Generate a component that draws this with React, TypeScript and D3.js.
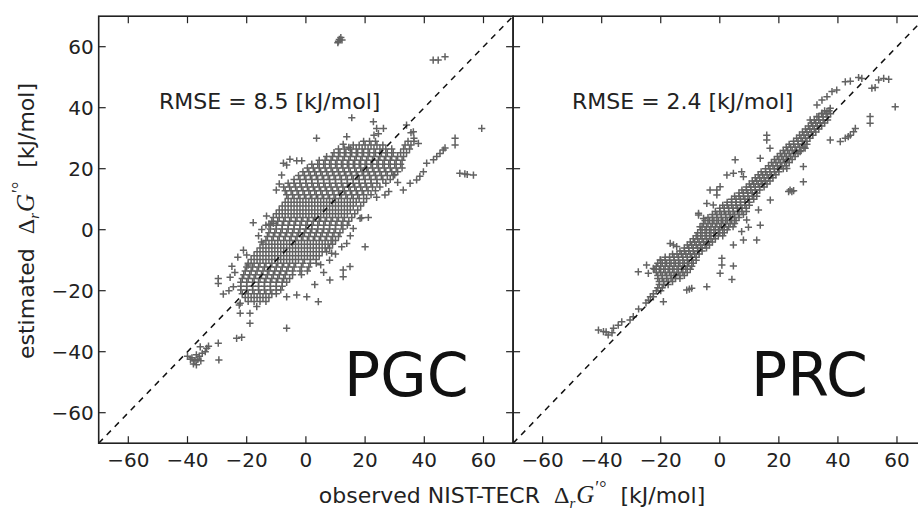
import React from "react";
import * as d3 from "d3";

const W = 918;
const H = 510;

const tickValues = [-60, -40, -20, 0, 20, 40, 60];
const tickLabels = ["\u221260", "\u221240", "\u221220", "0", "20", "40", "60"];
const panelNames = ["PGC", "PRC"];
const rmseValues = ["8.5", "2.4"];

// PGC dense core: [y, x-values]
const pgcRows: [number, number[]][] = [
  [29, [19.5, 21.5, 23.5, 34.5, 36.5]],
  [27.75, [16, 18, 20, 22, 24, 26, 33.5, 35.5]],
  [26.5, [11, 13, 15, 17, 19, 21, 23, 25, 27, 29, 33, 35]],
  [25.25, [9.5, 11.5, 13.5, 15.5, 17.5, 19.5, 21.5, 23.5, 25.5, 27.5, 29.5, 32, 34]],
  [24, [7, 9, 11, 13, 15, 17, 19, 21, 23, 25, 27, 29, 31, 33]],
  [22.75, [4.5, 6.5, 8.5, 10.5, 12.5, 14.5, 16.5, 18.5, 20.5, 22.5, 24.5, 26.5, 28.5, 30.5, 32.5]],
  [21.5, [2, 4, 6, 8, 10, 12, 14, 16, 18, 20, 22, 24, 26, 28, 30, 32]],
  [20.25, [0.5, 2.5, 4.5, 6.5, 8.5, 10.5, 12.5, 14.5, 16.5, 18.5, 20.5, 22.5, 24.5, 26.5, 28.5, 30.5, 32.5]],
  [19, [-1, 1, 3, 5, 7, 9, 11, 13, 15, 17, 19, 21, 23, 25, 27, 29, 31]],
  [17.75, [-2.5, -0.5, 1.5, 3.5, 5.5, 7.5, 9.5, 11.5, 13.5, 15.5, 17.5, 19.5, 21.5, 23.5, 25.5, 27.5, 29.5]],
  [16.5, [-4, -2, 0, 2, 4, 6, 8, 10, 12, 14, 16, 18, 20, 22, 24, 26, 28.5]],
  [15.25, [-6, -4, -2, 0, 2, 4, 6, 8, 10, 12, 14, 16, 18, 20, 22, 24, 27]],
  [14, [-7.5, -5.5, -3.5, -1.5, 0.5, 2.5, 4.5, 6.5, 8.5, 10.5, 12.5, 14.5, 16.5, 18.5, 20.5, 22.5, 25]],
  [12.75, [-7, -5, -3, -1, 1, 3, 5, 7, 9, 11, 13, 15, 17, 19, 21, 23.5]],
  [11.5, [-6.5, -4.5, -2.5, -0.5, 1.5, 3.5, 5.5, 7.5, 9.5, 11.5, 13.5, 15.5, 17.5, 19.5, 22]],
  [10.25, [-6, -4, -2, 0, 2, 4, 6, 8, 10, 12, 14, 16, 18, 20.5]],
  [9, [-7, -5, -3, -1, 1, 3, 5, 7, 9, 11, 13, 15, 17, 19.5]],
  [7.75, [-8, -6, -4, -2, 0, 2, 4, 6, 8, 10, 12, 14, 16, 18.5]],
  [6.5, [-9, -7, -5, -3, -1, 1, 3, 5, 7, 9, 11, 13, 15, 17.5]],
  [5.25, [-10, -8, -6, -4, -2, 0, 2, 4, 6, 8, 10, 12, 14, 16.5]],
  [4, [-11, -9, -7, -5, -3, -1, 1, 3, 5, 7, 9, 11, 13, 15.5]],
  [2.75, [-11.5, -9.5, -7.5, -5.5, -3.5, -1.5, 0.5, 2.5, 4.5, 6.5, 8.5, 10.5, 12.5, 14.5]],
  [1.5, [-12, -10, -8, -6, -4, -2, 0, 2, 4, 6, 8, 10, 12, 14]],
  [0.25, [-12, -10, -8, -6, -4, -2, 0, 2, 4, 6, 8, 10, 12.5]],
  [-1, [-12.5, -10.5, -8.5, -6.5, -4.5, -2.5, -0.5, 1.5, 3.5, 5.5, 7.5, 9.5, 11.5]],
  [-2.25, [-13, -11, -9, -7, -5, -3, -1, 1, 3, 5, 7, 9, 11]],
  [-3.5, [-13.5, -11.5, -9.5, -7.5, -5.5, -3.5, -1.5, 0.5, 2.5, 4.5, 6.5, 8.5, 10]],
  [-4.75, [-14.5, -12.5, -10.5, -8.5, -6.5, -4.5, -2.5, -0.5, 1.5, 3.5, 5.5, 7.5, 9]],
  [-6, [-15.5, -13.5, -11.5, -9.5, -7.5, -5.5, -3.5, -1.5, 0.5, 2.5, 4.5, 6.5, 8]],
  [-7.25, [-16.5, -14.5, -12.5, -10.5, -8.5, -6.5, -4.5, -2.5, -0.5, 1.5, 3.5, 5.5, 7]],
  [-8.5, [-17.5, -15.5, -13.5, -11.5, -9.5, -7.5, -5.5, -3.5, -1.5, 0.5, 2.5, 4.5]],
  [-9.75, [-18.5, -16.5, -14.5, -12.5, -10.5, -8.5, -6.5, -4.5, -2.5, -0.5, 1.5, 3.5]],
  [-11, [-19.5, -17.5, -15.5, -13.5, -11.5, -9.5, -7.5, -5.5, -3.5, -1, 1.5, 3.5]],
  [-12.25, [-20, -18, -16, -14, -12, -10, -8, -6, -4, -1.5, 1]],
  [-13.5, [-20.5, -18.5, -16.5, -14.5, -12.5, -10.5, -8.5, -6.5, -4.5, -2, 0.5]],
  [-14.75, [-21, -19, -17, -15, -13, -11, -9, -7, -4.5, -1.5]],
  [-16, [-21.5, -19.5, -17.5, -15.5, -13.5, -11.5, -9.5, -7.5, -5.5]],
  [-17.25, [-22, -20, -18, -16, -14, -12, -10, -8, -6.5]],
  [-18.5, [-22, -20, -18, -16, -14, -12, -10, -8]],
  [-19.75, [-22, -20, -18, -16, -14, -12, -10, -8.5]],
  [-21, [-21.5, -19.5, -17.5, -15.5, -13.5, -11.5, -10]],
  [-22.25, [-20.5, -18.5, -16.5, -14.5, -12.5]],
  [-23.5, [-19.5, -17.5, -15.5, -13.5]],
];

// PGC scattered points: [x, y]
const pgcScatter: [number, number][] = [
  [10.8, 61.3], [11.3, 62.4], [11.8, 63], [12.2, 62.2], [11, 61.8],
  [43, 55.6], [44.7, 55.6], [47, 56.7],
  [59.4, 33.2], [50.4, 30], [50.4, 27.8],
  [52, 18.5], [53.7, 18.3], [56.6, 17.9], [54.5, 18.1],
  [15.5, 36.7], [3.6, 30], [13.8, 30.5], [12.6, 28], [14.5, 27],
  [22.8, 35.4], [23.9, 33.2], [26.2, 33.2], [24.5, 31.5], [23, 31],
  [36.3, 32.1], [38, 28.3], [36.5, 30], [34, 34.3], [35.5, 31.8],
  [40.8, 21.8], [43.1, 22.9], [45.3, 25], [46.4, 26.1], [44.2, 24], [47, 26.8],
  [39.7, 19], [37.4, 16.3], [35.2, 15.2], [32.9, 13], [38.5, 17.5],
  [26.7, 11.4], [23.9, 10.6], [28, 12.5], [30, 18], [31, 15.5],
  [18.3, 3.7], [21.1, 4], [13.8, -4.5], [12.1, -5.6], [20, -5.6], [8.7, -7.7], [16, 0.4], [18.8, 3.9], [15, -2],
  [12.6, -13.2], [14.9, -12.1], [12.6, -15.4], [8.1, -16.5], [4.2, -23.6], [0.3, -22], [-3.1, -21.4],
  [-6.5, -22], [-6.5, -32.3], [6, -14], [3, -18], [5, -11.5], [8, -10], [10, -8],
  [-7.6, 21.8], [-5.4, 23.1], [-3.1, 22.6], [-1.4, 22.6], [-8.2, 17.9], [-6.5, 21.2], [-9, 15], [-10, 13],
  [-17.8, 2.3], [-13.3, 4.5], [-11, 2.1], [-14.9, 0.1], [-13.5, 1.5], [-12.5, 1.8], [-16, -2], [-15, -4],
  [-21.1, -6.7], [-20, -8.3], [-19.5, -11.6], [-23, -9], [-24, -14], [-25, -12],
  [-29.6, -16], [-29.6, -17.6], [-25.6, -15.6], [-27.9, -21.1], [-24.5, -18.7], [-26, -20],
  [-22.2, -24.1], [-18.9, -27.4], [-22.2, -27.4], [-18.9, -30.7], [-16.6, -25.2], [-22.5, -24.7],
  [-23.4, -35.6], [-21.7, -35.3], [-29.6, -37.2], [-29.4, -42.7],
  [-35.7, -38.4], [-33.5, -38.9], [-32.9, -38.2],
  [-40, -41.5], [-38.5, -42], [-37.5, -43], [-37, -44.3], [-36.5, -42.5], [-36, -41.5],
  [-35.5, -43], [-35, -40.5], [-34, -40], [-38, -44], [-39, -42.5], [-37, -41],
];

// PRC dense band: [y, x-values]
const prcRows: [number, number[]][] = [
  [39, [35.5, 37]],
  [38, [34.5, 36, 37.5]],
  [37, [33.5, 35, 36.5]],
  [36, [32, 33.5, 35, 36.5]],
  [35, [31, 32.5, 34, 35.5]],
  [34, [30, 31.5, 33, 34.5]],
  [33, [29, 30.5, 32, 33.5]],
  [32, [28, 29.5, 31, 32.5]],
  [31, [27, 28.5, 30, 31.5]],
  [30, [26, 27.5, 29, 30.5]],
  [29, [25, 26.5, 28, 29.5]],
  [28, [23.5, 25, 26.5, 28, 29.5]],
  [27, [22.5, 24, 25.5, 27, 28.5]],
  [26, [21.5, 23, 24.5, 26, 27.5]],
  [25, [20.5, 22, 23.5, 25, 26.5]],
  [24, [19.5, 21, 22.5, 24, 25.5]],
  [23, [18.5, 20, 21.5, 23, 24.5]],
  [22, [17.5, 19, 20.5, 22, 23.5]],
  [21, [16.5, 18, 19.5, 21, 22.5]],
  [20, [15.5, 17, 18.5, 20, 21.5]],
  [19, [14, 15.5, 17, 18.5, 20]],
  [18, [13, 14.5, 16, 17.5, 19]],
  [17, [12, 13.5, 15, 16.5, 18]],
  [16, [11, 12.5, 14, 15.5, 17]],
  [15, [10, 11.5, 13, 14.5, 16]],
  [14, [9, 10.5, 12, 13.5, 15]],
  [13, [7.5, 9, 10.5, 12, 13.5]],
  [12, [6.5, 8, 9.5, 11, 12.5]],
  [11, [5, 6.5, 8, 9.5, 11, 12.5]],
  [10, [4, 5.5, 7, 8.5, 10, 11.5]],
  [9, [2.5, 4, 5.5, 7, 8.5, 10]],
  [8, [1, 2.5, 4, 5.5, 7, 8.5, 10]],
  [7, [0, 1.5, 3, 4.5, 6, 7.5, 9]],
  [6, [-1.5, 0, 1.5, 3, 4.5, 6, 7.5, 9]],
  [5, [-2.5, -1, 0.5, 2, 3.5, 5, 6.5, 8]],
  [4, [-4, -2.5, -1, 0.5, 2, 3.5, 5, 6.5]],
  [3, [-5, -3.5, -2, -0.5, 1, 2.5, 4, 5.5]],
  [2, [-5.5, -4, -2.5, -1, 0.5, 2, 3.5, 5]],
  [1, [-6, -4.5, -3, -1.5, 0, 1.5, 3, 4.5]],
  [0, [-6.5, -5, -3.5, -2, -0.5, 1, 2.5]],
  [-1, [-7.5, -6, -4.5, -3, -1.5, 0, 1.5]],
  [-2, [-8, -6.5, -5, -3.5, -2, -0.5, 1]],
  [-3, [-9, -7.5, -6, -4.5, -3, -1.5]],
  [-4, [-10, -8.5, -7, -5.5, -4, -2.5]],
  [-5, [-11, -9.5, -8, -6.5, -5, -3.5]],
  [-6, [-12, -10.5, -9, -7.5, -6, -4.5]],
  [-7, [-13.5, -12, -10.5, -9, -7.5, -6]],
  [-8, [-16, -14.5, -13, -11.5, -10, -8.5, -7]],
  [-9, [-18.5, -17, -15.5, -14, -12.5, -11, -9.5, -8]],
  [-10, [-20, -18.5, -17, -15.5, -14, -12.5, -11, -9.5, -8]],
  [-11, [-21, -19.5, -18, -16.5, -15, -13.5, -12, -10.5, -9]],
  [-12, [-21.5, -20, -18.5, -17, -15.5, -14, -12.5, -11, -9.5]],
  [-13, [-22, -20.5, -19, -17.5, -16, -14.5, -13, -11.5, -10]],
  [-14, [-21.5, -20, -18.5, -17, -15.5, -14, -12.5, -11]],
  [-15, [-21, -19.5, -18, -16.5, -15, -13.5, -12]],
  [-16, [-21, -19.5, -18, -16.5, -15, -13.5]],
  [-17, [-20.5, -19, -17.5, -16]],
  [-18, [-20.5, -19, -17.5]],
  [-19, [-21, -19.5]],
  [-20, [-21.5, -20]],
  [-21, [-22.5]],
  [-22, [-23.5]],
  [-24, [-25]],
  [-26, [-27.5]],
];

// PRC scattered points: [x, y]
const prcScatter: [number, number][] = [
  [42.5, 48.5], [44.2, 48.7], [47, 49.9], [48.1, 49.6], [53.8, 49.1], [55.5, 49.6], [57.2, 49.3],
  [51.5, 46.4], [52.6, 46.6], [59.4, 40.3], [50.9, 37.1], [50.9, 34.9],
  [37.4, 29.4], [40.8, 28.9], [42.5, 30], [44.2, 31], [45.3, 32.1], [45.9, 33.2], [43.5, 30.5],
  [32.9, 40.9], [34.6, 42.5], [36.3, 43.6], [38, 45.3], [39.6, 45.8],
  [30.6, 36], [32.9, 37.1], [34.6, 38.2], [36.3, 38.7], [37.4, 39.8],
  [15.9, 31], [15.9, 29.4], [17, 26.7], [13.7, 23.4], [2.4, 17.9], [4.6, 18.5], [7.4, 19], [8, 17.4],
  [22.7, 20.1], [28.3, 20.7], [28.3, 15.7], [23.3, 12.5], [24.4, 12.5], [23.8, 13], [25, 12.8],
  [-3.3, 13], [-1, 13], [0.1, 14.1], [-1, 11.4], [-4.4, 8.6], [-2.2, 8.1], [-7.2, 5.4], [-5.5, 3.7],
  [27.2, 25.6], [28.9, 26.7], [5.2, 22.9], [17.1, 9.7], [13.1, 6.5], [13.7, 1.5], [12.5, -3.4],
  [7.4, -0.6], [8, -3.4], [4.6, -5], [9.1, 3.2], [9.7, 0.8],
  [0.7, -9.4], [0.7, -11.6], [0.1, -14.3], [4.6, -11.9], [4.1, -16.3], [-4.4, -18.7],
  [-11.2, -19.8], [-10.3, -19.5], [-9.5, -19.2], [-19.1, -23.6], [-24.2, -23.1], [-22.5, -22],
  [-27.6, -13.8], [-24.8, -11.6], [-24.2, -14.3], [-22.5, -12.7], [-20.2, -9.9],
  [-7.2, 4.8], [-6.7, 1], [-16.8, -4.5], [-15.7, -5], [-14.6, -5.5],
  [-41.1, -32.9], [-39.4, -33.4], [-37.8, -34.5], [-36, -32.3], [-34.4, -31.3], [-33.2, -30.2],
  [-30.4, -29.6], [-29.3, -28.5], [-38.5, -33.5], [-36.5, -33.8],
];

function expand(rows: [number, number[]][], extra: [number, number][]) {
  const pts: [number, number][] = [];
  rows.forEach(([y, xs]) => xs.forEach((x) => pts.push([x, y])));
  return pts.concat(extra);
}

const datasets = [expand(pgcRows, pgcScatter), expand(prcRows, prcScatter)];

const top = 16.2;
const bottom = 443.2;
const panelRanges: [number, number][] = [
  [98.7, 513.1],
  [513.1, 926.5],
];

const yScale = d3.scaleLinear().domain([-70, 70]).range([bottom, top]);

const sans = "'DejaVu Sans', 'Bitstream Vera Sans', sans-serif";
const serif = "'Liberation Serif', 'DejaVu Serif', serif";
const ink = "#222";
const tickLen = 7;

function MathPart() {
  return (
    <>
      <tspan fontFamily={serif} fontSize={24}>{"\u0394"}</tspan>
      <tspan fontFamily={serif} fontStyle="italic" fontSize={15} dy={5}>r</tspan>
      <tspan fontFamily={serif} fontStyle="italic" fontSize={25} dy={-5} dx={1}>G</tspan>
      <tspan fontFamily={serif} fontSize={18} dy={-9} dx={1}>{"\u2032\u00b0"}</tspan>
    </>
  );
}

function Panel({ idx }: { idx: number }) {
  const [x0, x1] = panelRanges[idx];
  const xScale = d3.scaleLinear().domain([-70, 70]).range([x0, x1]);
  const pts = datasets[idx];
  const clipId = `clip${idx}`;
  return (
    <g>
      <defs>
        <clipPath id={clipId}>
          <rect x={x0} y={top} width={x1 - x0} height={bottom - top} />
        </clipPath>
      </defs>
      <g clipPath={`url(#${clipId})`}>
        <g stroke="#626262" strokeWidth={1.5}>
          {pts.map(([x, y], i) => {
            const px = xScale(x);
            const py = yScale(y);
            return <path key={i} d={`M${px - 3.6},${py}H${px + 3.6}M${px},${py - 3.6}V${py + 3.6}`} />;
          })}
        </g>
        <line
          x1={xScale(-70)}
          y1={yScale(-70)}
          x2={xScale(70)}
          y2={yScale(70)}
          stroke="#111"
          strokeWidth={1.5}
          strokeDasharray="6,5.5"
        />
      </g>
      <g stroke={ink} strokeWidth={1.2}>
        {tickValues.map((v) => (
          <g key={`t${v}`}>
            <line x1={xScale(v)} x2={xScale(v)} y1={bottom} y2={bottom - tickLen} />
            <line x1={xScale(v)} x2={xScale(v)} y1={top} y2={top + tickLen} />
            <line x1={x0} x2={x0 + tickLen} y1={yScale(v)} y2={yScale(v)} />
            <line x1={x1} x2={x1 - tickLen} y1={yScale(v)} y2={yScale(v)} />
          </g>
        ))}
      </g>
      <rect x={x0} y={top} width={x1 - x0} height={bottom - top} fill="none" stroke={ink} strokeWidth={1.6} />
      {tickValues.map((v, i) => (
        <text
          key={`xl${v}`}
          x={xScale(v)}
          y={467}
          textAnchor="middle"
          fontFamily={sans}
          fontSize={20}
          fill={ink}
        >
          {tickLabels[i]}
        </text>
      ))}
      {idx === 0 &&
        tickValues.map((v, i) => (
          <text
            key={`yl${v}`}
            x={x0 - 5}
            y={yScale(v) + 7}
            textAnchor="end"
            fontFamily={sans}
            fontSize={20}
            fill={ink}
          >
            {tickLabels[i]}
          </text>
        ))}
      <text x={idx === 0 ? 159 : 572} y={109} fontFamily={sans} fontSize={22} fill={ink}>
        {`RMSE = ${rmseValues[idx]} [kJ/mol]`}
      </text>
      <text x={idx === 0 ? 344 : 751} y={396} fontFamily={sans} fontSize={60} fill="#111">
        {panelNames[idx]}
      </text>
    </g>
  );
}

export default function App() {
  return (
    <svg
      width={W}
      height={H}
      viewBox={`0 0 ${W} ${H}`}
      style={{ position: "absolute", left: 0, top: 0, background: "#fff" }}
    >
      <rect x={0} y={0} width={W} height={H} fill="#fff" />
      <Panel idx={0} />
      <Panel idx={1} />
      <text x={512} y={503} textAnchor="middle" fontFamily={sans} fontSize={22} fill={ink}>
        <tspan>{"observed NIST-TECR\u00a0\u00a0"}</tspan>
        <MathPart />
        <tspan dy={9}>{"\u00a0\u00a0[kJ/mol]"}</tspan>
      </text>
      <text
        transform="translate(34,221) rotate(-90)"
        textAnchor="middle"
        fontFamily={sans}
        fontSize={22}
        fill={ink}
      >
        <tspan>{"estimated\u00a0\u00a0"}</tspan>
        <MathPart />
        <tspan dy={9}>{"\u00a0\u00a0[kJ/mol]"}</tspan>
      </text>
    </svg>
  );
}
